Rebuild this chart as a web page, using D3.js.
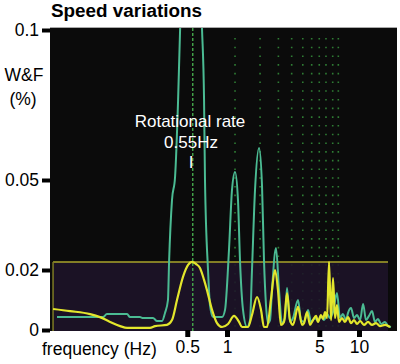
<!DOCTYPE html>
<html>
<head>
<meta charset="utf-8">
<script src="https://cdnjs.cloudflare.com/ajax/libs/d3/7.8.5/d3.min.js"></script>
<style>
  body { margin: 0; background: #fff; }
  text { font-family: "Liberation Sans", Helvetica, Arial, sans-serif; }
</style>
</head>
<body>
<div id="area"></div>
<script>
// tick labels
var yTicks = [0, 0.02, 0.05, 0.1];
var xTicks = [0.5, 1, 5, 10];

// rotational rate and the dotted harmonic columns (Hz)
var rotationalRate = 0.55;
var harmonicFreq = [1.15, 1.78, 2.45, 3.09, 3.75, 4.38, 5.0, 5.62, 6.32, 6.97];

// threshold band
var bandFreq = [0.0481, 16.59];
var bandTop = 0.0227;

// green trace (W&F %, per frequency)
var greenFreq = [0.0515, 0.0769, 0.115, 0.123, 0.175, 0.184, 0.219, 0.231, 0.275, 0.295,
  0.322, 0.339, 0.357, 0.364, 0.383, 0.404, 0.426, 0.441, 0.481, 0.536,
  0.593, 0.647, 0.670, 0.681, 0.718, 0.743, 0.784, 0.917, 0.966, 1.035,
  1.091, 1.150, 1.211, 1.254, 1.322, 1.418, 1.494, 1.546, 1.630, 1.748,
  1.841, 1.906, 1.974, 2.045, 2.117, 2.192, 2.350, 2.477, 2.610, 2.750,
  2.848, 3.000, 3.162, 3.451, 3.636, 3.83, 4.11, 4.33, 4.64, 4.895,
  5.15, 5.434, 5.727, 6.032, 6.353, 6.81, 7.176, 7.56, 7.972, 8.257,
  8.70, 9.172, 9.66, 10.19, 10.74, 11.3, 11.9, 12.55, 13.21, 13.93,
  14.68, 15.74, 16.59, 17.47];
var greenWF = [0.0043, 0.0043, 0.0043, 0.0053, 0.0053, 0.0043, 0.0043, 0.004, 0.004, 0.003,
  0.003, 0.0057, 0.01, 0.0227, 0.0433, 0.051, 0.0767, 0.1, 0.13, 0.14,
  0.13, 0.1, 0.0767, 0.05, 0.02, 0.0083, 0.0043, 0.0043, 0.0067, 0.0267,
  0.0467, 0.0527, 0.0433, 0.0233, 0.0067, 0.001, 0.0033, 0.02, 0.0467, 0.0607,
  0.0483, 0.0233, 0.0083, 0.0023, 0.0033, 0.0133, 0.0273, 0.0133, 0.0023, 0.004,
  0.014, 0.0027, 0.004, 0.01, 0.0033, 0.0027, 0.0067, 0.0027, 0.004, 0.003,
  0.0047, 0.0033, 0.0053, 0.004, 0.006, 0.0123, 0.004, 0.0053, 0.0033, 0.0057,
  0.0073, 0.004, 0.005, 0.0033, 0.0087, 0.0033, 0.0047, 0.0063, 0.0027, 0.0037,
  0.002, 0.0027, 0.0013, 0.001];

// yellow trace
var yellowFreq = [0.0481, 0.0647, 0.0917, 0.109, 0.130, 0.155, 0.175, 0.261, 0.285, 0.351,
  0.383, 0.418, 0.464, 0.507, 0.543, 0.582, 0.624, 0.670, 0.705, 0.770,
  0.840, 0.917, 1.018, 1.130, 1.233, 1.299, 1.443, 1.546, 1.688, 1.81,
  1.906, 2.01, 2.15, 2.310, 2.433, 2.56, 2.703, 2.848, 3.0, 3.162,
  3.451, 3.701, 3.83, 4.039, 4.255, 4.48, 4.727, 4.895, 5.15, 5.34,
  5.53, 5.727, 5.929, 6.137, 6.353, 6.576, 6.81, 7.05, 7.432, 7.83,
  8.257, 8.70, 9.172, 9.66, 10.19, 10.9, 11.70, 12.55, 13.45, 14.42,
  15.74, 17.18];
var yellowWF = [0.007, 0.0063, 0.0053, 0.0043, 0.0027, 0.0013, 0.0007, 0.0007, 0.0013, 0.0017,
  0.0033, 0.01, 0.0177, 0.0217, 0.0227, 0.022, 0.0207, 0.0167, 0.0133, 0.0067,
  0.0023, 0.001, 0.002, 0.0047, 0.0027, 0.001, 0.001, 0.005, 0.011, 0.0067,
  0.001, 0.001, 0.01, 0.02, 0.0133, 0.0017, 0.0027, 0.0123, 0.0033, 0.0017,
  0.0077, 0.0017, 0.0023, 0.006, 0.0017, 0.0033, 0.0047, 0.0027, 0.005, 0.0037,
  0.006, 0.004, 0.0227, 0.0033, 0.0173, 0.004, 0.0083, 0.0027, 0.004, 0.0027,
  0.0043, 0.0023, 0.0033, 0.002, 0.003, 0.0017, 0.0027, 0.0017, 0.0023, 0.0013,
  0.0017, 0.001];

var width = 400, height = 364;
var plot = {left: 50, right: 397, top: 28, bottom: 331};
var labelFont = 17.5;

var svg = d3.select('#area').append('svg')
    .attr('width', width)
    .attr('height', height);

var x = d3.scaleLog()
    .domain([0.0456, 19.4])
    .range([plot.left, plot.right]);

var y = d3.scaleLinear()
    .domain([0, 0.1])
    .range([330, 30]);

// black screen
svg.append('rect')
    .attr('x', plot.left)
    .attr('y', plot.top)
    .attr('width', plot.right - plot.left)
    .attr('height', plot.bottom - plot.top)
    .attr('fill', '#0b0b0b');
svg.append('line')
    .attr('x1', plot.left).attr('x2', plot.right)
    .attr('y1', plot.top - 0.5).attr('y2', plot.top - 0.5)
    .attr('stroke', '#aaa');

svg.append('clipPath').attr('id', 'clip')
  .append('rect')
    .attr('x', plot.left)
    .attr('y', plot.top)
    .attr('width', plot.right - plot.left)
    .attr('height', plot.bottom - plot.top);

var g = svg.append('g').attr('clip-path', 'url(#clip)');

// dotted harmonic columns
g.selectAll('.harm')
    .data(harmonicFreq)
    .enter().append('line')
    .attr('class', 'harm')
    .attr('x1', function(d) { return x(d); })
    .attr('x2', function(d) { return x(d); })
    .attr('y1', 38)
    .attr('y2', plot.bottom)
    .attr('stroke', '#2f7d34')
    .attr('stroke-width', 1.6)
    .attr('stroke-dasharray', '1.6 7.1');

// threshold band
g.append('rect')
    .attr('x', x(bandFreq[0]))
    .attr('y', y(bandTop))
    .attr('width', x(bandFreq[1]) - x(bandFreq[0]))
    .attr('height', plot.bottom - y(bandTop))
    .attr('fill', '#1e1329')
    .attr('fill-opacity', 0.88);
g.append('line')
    .attr('x1', x(bandFreq[0])).attr('x2', x(bandFreq[1]))
    .attr('y1', y(bandTop)).attr('y2', y(bandTop))
    .attr('stroke', '#a8a52a')
    .attr('stroke-width', 1.5);
g.append('line')
    .attr('x1', x(bandFreq[0])).attr('x2', x(bandFreq[0]))
    .attr('y1', y(bandTop)).attr('y2', plot.bottom)
    .attr('stroke', '#7d7a24')
    .attr('stroke-width', 1.5);

// rotational rate marker
g.append('line')
    .attr('x1', x(rotationalRate)).attr('x2', x(rotationalRate))
    .attr('y1', plot.top).attr('y2', plot.bottom)
    .attr('stroke', '#45a84b')
    .attr('stroke-width', 1.4)
    .attr('stroke-dasharray', '3 2');

var line = d3.line()
    .x(function(d) { return x(d[0]); })
    .y(function(d) { return y(d[1]); })
    .curve(d3.curveMonotoneX);

var green = greenFreq.map(function(f, i) { return [f, greenWF[i]]; });
var yellow = yellowFreq.map(function(f, i) { return [f, yellowWF[i]]; });

g.append('path')
    .datum(green)
    .attr('d', line)
    .attr('fill', 'none')
    .attr('stroke', '#4bbb93')
    .attr('stroke-width', 2);

g.append('path')
    .datum(yellow)
    .attr('d', line)
    .attr('fill', 'none')
    .attr('stroke', '#e3e62c')
    .attr('stroke-width', 2.2);

// annotation
var note = svg.append('g')
    .attr('fill', '#fff')
    .attr('font-size', 17)
    .attr('text-anchor', 'middle');
note.append('text').attr('x', 190).attr('y', 127).text('Rotational rate');
note.append('text').attr('x', 191).attr('y', 148).text('0.55Hz');
note.append('text').attr('x', 191).attr('y', 168).text('I');

// axes
var yAxis = d3.axisLeft(y)
    .tickValues(yTicks)
    .tickSize(8)
    .tickPadding(3)
    .tickFormat(function(d) { return String(d); });

var yg = svg.append('g')
    .attr('transform', 'translate(' + plot.left + ',0)')
    .call(yAxis);
yg.select('.domain').remove();
yg.selectAll('line').attr('stroke', '#000').attr('stroke-width', 4);
yg.selectAll('text')
    .attr('font-size', labelFont)
    .attr('font-family', '"Liberation Sans", Helvetica, Arial, sans-serif')
    .attr('fill', '#000');

var xAxis = d3.axisBottom(x)
    .tickValues(xTicks)
    .tickSize(7)
    .tickPadding(4)
    .tickFormat(function(d) { return String(d); });

var xg = svg.append('g')
    .attr('transform', 'translate(0,' + 330 + ')')
    .call(xAxis);
xg.select('.domain').remove();
xg.selectAll('line').attr('stroke', '#000').attr('stroke-width', 5);
xg.selectAll('text')
    .attr('font-size', labelFont)
    .attr('font-family', '"Liberation Sans", Helvetica, Arial, sans-serif')
    .attr('fill', '#000');

// labels
svg.append('text')
    .attr('x', 24).attr('y', 81)
    .attr('text-anchor', 'middle')
    .attr('font-size', labelFont)
    .text('W&F');
svg.append('text')
    .attr('x', 23).attr('y', 105)
    .attr('text-anchor', 'middle')
    .attr('font-size', labelFont)
    .text('(%)');
svg.append('text')
    .attr('x', 42).attr('y', 355)
    .attr('font-size', labelFont)
    .text('frequency (Hz)');

svg.append('text')
    .attr('x', 51).attr('y', 17)
    .attr('font-family', 'Lato, "Open Sans", sans-serif')
    .attr('font-weight', 'bold')
    .attr('font-size', 18)
    .attr('textLength', 151)
    .attr('lengthAdjust', 'spacingAndGlyphs')
    .text('Speed variations');
</script>
</body>
</html>
